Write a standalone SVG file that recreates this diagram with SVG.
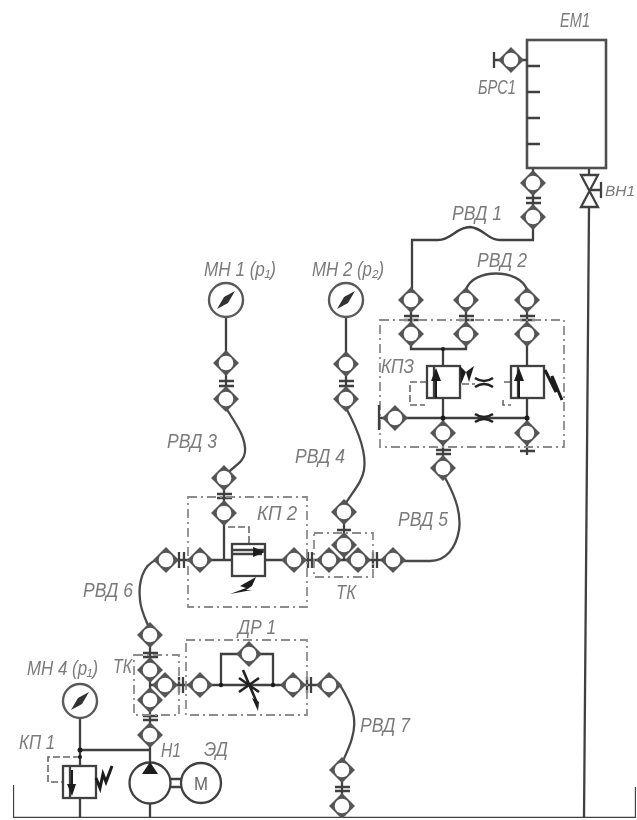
<svg xmlns="http://www.w3.org/2000/svg" width="637" height="820" viewBox="0 0 637 820">
<style>
.l{fill:none;stroke:#404040;stroke-width:2.300}
.h{fill:none;stroke:#4a4a4a;stroke-width:2.300}
.d{fill:none;stroke:#8c8c8c;stroke-width:1.800;stroke-dasharray:9 4 2 4}
.p{fill:none;stroke:#666;stroke-width:1.600;stroke-dasharray:7 3}
.b{fill:#1c1c1c;stroke:none}
.k{fill:none;stroke:#1c1c1c;stroke-width:3}
.t{fill:none;stroke:#222;stroke-width:2.600}
.c{fill:#fff;stroke:#404040;stroke-width:2.300}
text{font-family:"Liberation Sans",Arial,sans-serif;font-style:italic;font-size:20px;fill:#7a7a7a}
.m{font-style:normal;font-size:19px;fill:#666}
.e{font-size:15.500px}
</style>
<defs>
<filter id="soft" x="0" y="0" width="100%" height="100%"><feGaussianBlur stdDeviation="0.7"/></filter>
<g id="cp"><path d="M0-12L12 0 0 12-12 0Z" fill="#555" stroke="#555" stroke-width="1.400"/><circle r="7.300" fill="#fff"/></g>
<g id="gauge"><circle r="17" fill="#fff" stroke="#5a5a5a" stroke-width="2.400"/><path d="M-9 9L-2-3 9-9 2 3Z" fill="#333"/></g>
</defs>
<g filter="url(#soft)">
<g id="connectors">
<path class="l" d="M533 168V240H500C487 240 484 228 470 227 456 227 452 240 438 240H412V300"/>
<path class="l" d="M526 198H541M526 203H541M589 168V175M589 208L584 818"/>
<path class="l" d="M404 316H419M404 320H419M459 316H474M459 320H474M520 316H535M520 320H535"/>
<path class="l" d="M411 300V349H466V300M527 300V366M443 349V366"/>
<path class="h" d="M466 290C472 268 520 268 527 290"/>
<path class="l" d="M443 398V468M527 398V455M406 418H527M436 450H451M436 454H451M520 451H535"/>
<path class="h" d="M443 474C452 490 462 510 459 530 456 548 446 561 430 561H393"/>
<path class="l" d="M166 560H232M265 560H294M294 560H393M179 552V568M184 552V568M308 552V568M312 552V568M373 552V568M377 552V568"/>
<path class="l" d="M224 478V560M217 494H232M217 498H232M344 500V560M337 530H351M219 381H234M219 386H234M339 381H354M339 386H354"/>
<path class="l" d="M226 317V363M226 363V399M346 317V364M346 364V399"/>
<path class="h" d="M226 408C238 427 246 438 245 452 244 464 229 468 224 478"/>
<path class="h" d="M346 408C358 430 367 452 364 470 362 482 354 490 344 506"/>
<path class="h" d="M156 560C143 565 138 582 140 600 141 612 147 622 150 630"/>
<path class="l" d="M150 635V762M143 653H158M143 657H158M143 716H158M143 720H158M150 685H200M179 677V693M183 677V693"/>
<path class="l" d="M200 685H329M221 685V654H273V685M307 677V693M311 677V693"/>
<path class="h" d="M340 685C352 705 358 718 352 738 349 750 344 756 342 765"/>
<path class="l" d="M342 770V818M335 787H350M335 791H350"/>
<path class="l" d="M80 718V766M80 750H150M80 798V818M150 804V818"/>
<path class="l" d="M13 785V818H636V787"/>
<path class="p" d="M427 382H410V405H425M462 384H475M511 382H503M503 400V405H511"/>
<path class="p" d="M228 527H249V544M80 757H48V782H63"/>
</g>
<g id="tank-em1"><rect x="527" y="40" width="79" height="128" fill="#fff" stroke="#505050" stroke-width="2.600"/><path class="l" d="M527 66H540M527 92H540M527 118H540M527 144H540"/></g>
<g id="brs1"><path class="l" d="M494 52V68M494 60H527"/><use href="#cp" x="511" y="60"/></g>
<g id="vn1"><path class="c" d="M581 175H598L581 207H598Z"/><path class="l" d="M590 190H601M601 182V198"/></g>
<g id="rvd1-couplers"><use href="#cp" x="533" y="183"/><use href="#cp" x="533" y="217"/></g>
<g id="kp3-couplers"><use href="#cp" x="411" y="300"/><use href="#cp" x="466" y="300"/><use href="#cp" x="527" y="300"/><use href="#cp" x="411" y="334"/><use href="#cp" x="466" y="334"/><use href="#cp" x="527" y="334"/><use href="#cp" x="443" y="433"/><use href="#cp" x="527" y="433"/><use href="#cp" x="443" y="468"/></g>
<g id="kp3"><rect class="d" x="380" y="320" width="184" height="127"/>
<rect class="c" x="427" y="366" width="33" height="32"/><path class="l" d="M434 366V398"/><path class="b" d="M436 368L441 381H431ZM435 380H437V398H435Z"/>
<rect class="c" x="511" y="366" width="33" height="32"/><path class="l" d="M518 366V398"/><path class="b" d="M519 368L524 381H514ZM518 380H520V398H518Z"/>
<path class="b" d="M460 366L466 372 461 384ZM466 372L474 366 469 382Z"/><path class="k" d="M545 370L556 392 552 376 562 400"/>
<path class="t" d="M475 378Q484 384 493 378M475 387Q484 381 493 387"/>
<path class="t" d="M475 414Q484 420 493 414M475 422Q484 416 493 422"/></g>
<g id="kp3-port"><path class="l" d="M379 405V430M379 418H384"/><use href="#cp" x="395" y="418"/><circle class="b" cx="443" cy="418" r="2.500"/><circle class="b" cx="527" cy="418" r="2.500"/><circle class="b" cx="443" cy="349" r="2"/></g>
<g id="mn1"><use href="#gauge" x="226" y="300"/><use href="#cp" x="226" y="363"/><use href="#cp" x="226" y="399"/></g>
<g id="mn2"><use href="#gauge" x="346" y="300"/><use href="#cp" x="346" y="364"/><use href="#cp" x="346" y="399"/></g>
<g id="kp2"><rect class="d" x="188" y="497" width="119" height="110"/>
<rect class="c" x="232" y="544" width="33" height="32"/><path class="l" d="M232 550H265M232 554H262"/><path class="b" d="M265 552L253 547V557Z"/><path class="b" d="M230 594L246 588 240 586 256 577 252 586 246 590 252 590Z"/>
<use href="#cp" x="166" y="560"/><use href="#cp" x="200" y="560"/><use href="#cp" x="224" y="478"/><use href="#cp" x="224" y="513"/><use href="#cp" x="294" y="560"/></g>
<g id="tk-top"><rect class="d" x="314" y="533" width="59" height="44"/><use href="#cp" x="344" y="512"/><use href="#cp" x="344" y="545"/><use href="#cp" x="329" y="560"/><use href="#cp" x="358" y="560"/><use href="#cp" x="393" y="560"/></g>
<g id="tk-bottom"><rect class="d" x="134" y="655" width="45" height="60"/><use href="#cp" x="150" y="635"/><use href="#cp" x="150" y="670"/><use href="#cp" x="165" y="685"/><use href="#cp" x="150" y="700"/><use href="#cp" x="150" y="735"/></g>
<g id="dr1"><rect class="d" x="186" y="640" width="121" height="75"/><use href="#cp" x="200" y="685"/><use href="#cp" x="249" y="654"/><use href="#cp" x="293" y="685"/><use href="#cp" x="329" y="685"/>
<path class="t" d="M239 678L259 692M259 678L239 692M243 670L257 703"/><path class="b" d="M252 698L259 702 258 711Z"/><circle class="b" cx="221" cy="685" r="2.200"/><circle class="b" cx="273" cy="685" r="2.200"/></g>
<g id="rvd7-couplers"><use href="#cp" x="342" y="770"/><use href="#cp" x="342" y="806"/></g>
<g id="mn4"><use href="#gauge" x="80" y="701"/></g>
<g id="kp1"><rect class="c" x="63" y="766" width="33" height="32"/><path class="l" d="M70 766V798"/><path class="b" d="M72 796L67 784H76ZM71 770H73V786H71Z"/><path class="k" d="M96 778L100 788 103 774 106 782 112 766"/><circle class="b" cx="80" cy="750" r="2.500"/><circle class="b" cx="80" cy="757" r="2"/></g>
<g id="h1"><path class="l" d="M170 779H181M170 787H181"/><circle class="c" cx="150" cy="783" r="20.500"/><path class="b" d="M150 762L158 774H142Z"/></g>
<g id="ed"><circle class="c" cx="201" cy="783" r="20"/><text class="m" x="201" y="790" text-anchor="middle" textLength="14" lengthAdjust="spacingAndGlyphs">М</text></g>
<g id="labels">
<text x="560" y="27" textLength="30" lengthAdjust="spacingAndGlyphs">ЕМ1</text>
<text x="478" y="94" textLength="38" lengthAdjust="spacingAndGlyphs">БРС1</text>
<text class="e" x="605" y="196">ВН1</text>
<text x="452" y="220" textLength="50" lengthAdjust="spacingAndGlyphs">РВД 1</text>
<text x="477" y="267" textLength="50" lengthAdjust="spacingAndGlyphs">РВД 2</text>
<text x="204" y="276" textLength="72" lengthAdjust="spacingAndGlyphs">МН 1 (р₁)</text>
<text x="312" y="276" textLength="72" lengthAdjust="spacingAndGlyphs">МН 2 (р₂)</text>
<text x="381" y="373" textLength="33" lengthAdjust="spacingAndGlyphs">КПЗ</text>
<text x="167" y="448" textLength="50" lengthAdjust="spacingAndGlyphs">РВД 3</text>
<text x="295" y="463" textLength="50" lengthAdjust="spacingAndGlyphs">РВД 4</text>
<text x="398" y="526" textLength="50" lengthAdjust="spacingAndGlyphs">РВД 5</text>
<text x="257" y="520" textLength="40" lengthAdjust="spacingAndGlyphs">КП 2</text>
<text x="336" y="599" textLength="20" lengthAdjust="spacingAndGlyphs">ТК</text>
<text x="83" y="597" textLength="50" lengthAdjust="spacingAndGlyphs">РВД 6</text>
<text x="238" y="634" textLength="38" lengthAdjust="spacingAndGlyphs">ДР 1</text>
<text x="113" y="673" textLength="19" lengthAdjust="spacingAndGlyphs">ТК</text>
<text x="27" y="675" textLength="71" lengthAdjust="spacingAndGlyphs">МН 4 (р₁)</text>
<text x="360" y="732" textLength="50" lengthAdjust="spacingAndGlyphs">РВД 7</text>
<text x="19" y="749" textLength="36" lengthAdjust="spacingAndGlyphs">КП 1</text>
<text x="161" y="757" textLength="20" lengthAdjust="spacingAndGlyphs">Н1</text>
<text x="204" y="756" textLength="24" lengthAdjust="spacingAndGlyphs">ЭД</text>
</g>
</g>
</svg>
